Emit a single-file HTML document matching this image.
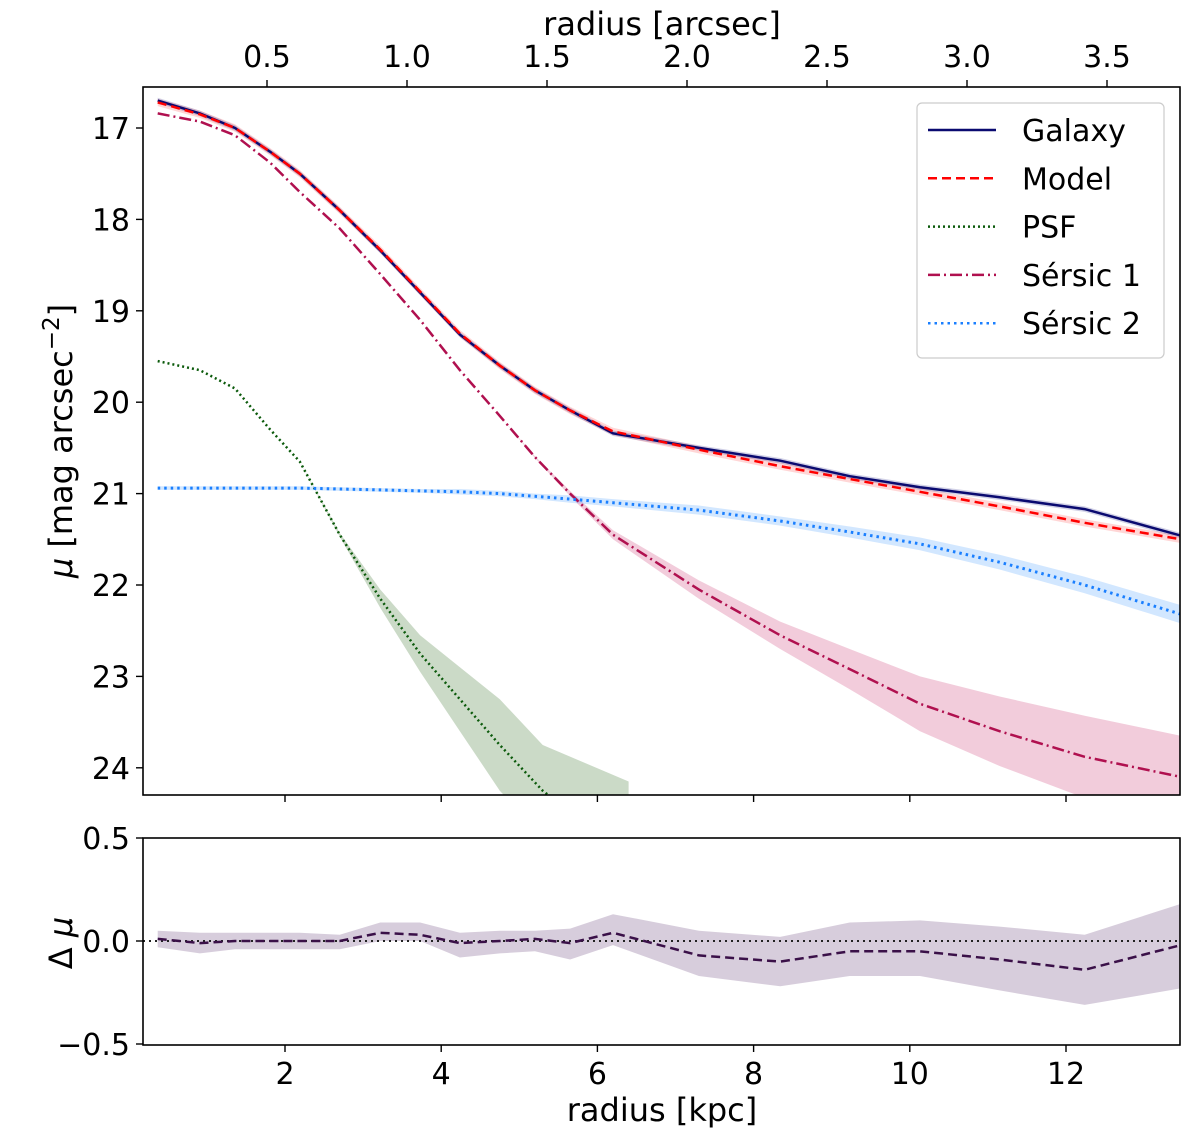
<!DOCTYPE html>
<html><head><meta charset="utf-8"><style>
body{margin:0;background:#fff}
svg{display:block;font-family:"DejaVu Sans","Liberation Sans",sans-serif}
</style></head><body>
<svg id="c" width="1200" height="1144" viewBox="0 0 1200 1144"></svg>
<script>
const xs=[0.37,0.91,1.36,1.81,2.19,2.7,3.22,3.73,4.24,4.75,5.2,5.65,6.2,7.3,8.34,9.23,10.13,11.15,12.24,13.47];
const galaxy=[16.70,16.84,17.0,17.26,17.5,17.9,18.34,18.8,19.26,19.6,19.87,20.09,20.34,20.5,20.64,20.81,20.93,21.04,21.17,21.46];
const model=[16.72,16.85,17.0,17.26,17.5,17.9,18.33,18.79,19.25,19.6,19.87,20.09,20.32,20.52,20.70,20.84,20.98,21.14,21.32,21.50];
const sersic1=[16.84,16.93,17.08,17.38,17.7,18.1,18.6,19.1,19.65,20.15,20.6,21.0,21.45,22.05,22.55,22.92,23.3,23.6,23.88,24.1];
const sersic1Err=[0,0,0,0,0,0,0,0,0,0,0.01,0.03,0.05,0.1,0.15,0.22,0.3,0.38,0.45,0.45];
const sersic2=[20.94,20.94,20.94,20.94,20.94,20.95,20.96,20.97,20.98,21.0,21.03,21.06,21.1,21.18,21.3,21.42,21.55,21.75,22.0,22.32];
const sersic2Err=[0.02,0.02,0.02,0.02,0.02,0.02,0.02,0.02,0.03,0.03,0.03,0.04,0.04,0.05,0.05,0.06,0.07,0.08,0.09,0.1];
const psfX=[0.37,0.91,1.36,1.81,2.19,2.7,3.22,3.73,4.24,4.75,5.3,6.4];
const psf=[19.55,19.65,19.85,20.3,20.65,21.45,22.15,22.75,23.25,23.75,24.25,25.0];
const psfErr=[0,0,0,0,0,0.02,0.1,0.2,0.35,0.5,0.5,0.85];
const resid=[0.01,-0.01,0.0,0.0,0.0,0.0,0.04,0.03,-0.01,0.0,0.01,-0.01,0.04,-0.07,-0.1,-0.05,-0.05,-0.09,-0.14,-0.02];
const residHi=[0.05,0.04,0.04,0.04,0.04,0.03,0.09,0.09,0.04,0.05,0.05,0.06,0.13,0.05,0.02,0.09,0.1,0.07,0.03,0.18];
const residLo=[-0.03,-0.06,-0.04,-0.04,-0.04,-0.04,0.0,0.0,-0.08,-0.06,-0.05,-0.09,-0.02,-0.17,-0.22,-0.17,-0.17,-0.24,-0.31,-0.23];
const kpcTicks=[2,4,6,8,10,12];
const arcTicks=[0.5,1.0,1.5,2.0,2.5,3.0,3.5];
const muTicks=[17,18,19,20,21,22,23,24];
const dTicks=[0.5,0.0,-0.5];
const dTickLabels=["0.5","0.0","\u22120.5"];

const NS="http://www.w3.org/2000/svg";
const svg=document.getElementById('c');
const L=143,R=1180,T1=87,B1=795,T2=838,B2=1045;
const X=k=>128.8+78.1*k;
const XA=a=>127+280*a;
const Y1=m=>128+(m-17)*91.4;
const Y2=d=>941-d*206;
function mk(tag,at,parent){const e=document.createElementNS(NS,tag);for(const k in at)e.setAttribute(k,at[k]);(parent||svg).appendChild(e);return e;}
const defs=mk('defs',{});
const cp1=mk('clipPath',{id:'cp1'},defs);mk('rect',{x:L,y:T1,width:R-L,height:B1-T1},cp1);
const cp2=mk('clipPath',{id:'cp2'},defs);mk('rect',{x:L,y:T2,width:R-L,height:B2-T2},cp2);
const g1=mk('g',{'clip-path':'url(#cp1)'});
const g2=mk('g',{'clip-path':'url(#cp2)'});
function pts(xa,ya,fx,fy){return xa.map((x,i)=>fx(x).toFixed(1)+','+fy(ya[i]).toFixed(1)).join(' ');}
function band(xa,lo,hi,fy,fill,op,g,name){
 const p=pts(xa,hi,X,fy)+' '+pts(xa.slice().reverse(),lo.slice().reverse(),X,fy);
 const e=mk('polygon',{points:p,fill:fill,'fill-opacity':op,stroke:'none'},g);
 }
function line(xa,ya,fy,col,w,dash,g,name){
 const e=mk('polyline',{points:pts(xa,ya,X,fy),fill:'none',stroke:col,'stroke-width':w,'stroke-dasharray':dash||'none'},g);
 }
band(psfX,psf.map((v,i)=>v+psfErr[i]),psf.map((v,i)=>v-psfErr[i]),Y1,'#2e6b1e',0.25,g1,'psf-band');
band(xs,sersic1.map((v,i)=>v+sersic1Err[i]),sersic1.map((v,i)=>v-sersic1Err[i]),Y1,'#c2185b',0.22,g1,'sersic1-band');
band(xs,sersic2.map((v,i)=>v+sersic2Err[i]),sersic2.map((v,i)=>v-sersic2Err[i]),Y1,'#1e88ff',0.2,g1,'sersic2-band');
band(xs,model.map(v=>v+0.04),model.map(v=>v-0.04),Y1,'#ff3030',0.2,g1,'model-band');
band(xs,galaxy.map(v=>v+0.03),galaxy.map(v=>v-0.03),Y1,'#1a1a80',0.2,g1,'galaxy-band');
line(psfX,psf,Y1,'#0b5a0b',2.5,'2,3',g1,'psf-line');
line(xs,sersic1,Y1,'#b0104f',2.5,'12,4,2,4',g1,'sersic1-line');
line(xs,sersic2,Y1,'#1a7fff',3,'2.5,4',g1,'sersic2-line');
line(xs,galaxy,Y1,'#0a0a70',2.5,null,g1,'galaxy-line');
line(xs,model,Y1,'#ff0000',2.5,'9,5',g1,'model-line');
band(xs,residLo,residHi,Y2,'#7a5a8a',0.3,g2,'residual-band');
const zl=mk('line',{x1:L,x2:R,y1:Y2(0),y2:Y2(0),stroke:'#222','stroke-width':2,'stroke-dasharray':'2,4'},g2);

line(xs,resid,Y2,'#3a1048',2.5,'9,5',g2,'residual-line');
for(const [t,b,n] of [[T1,B1,'main-frame'],[T2,B2,'residual-frame']]){
 const e=mk('rect',{x:L,y:t,width:R-L,height:b-t,fill:'none',stroke:'#000','stroke-width':1.6});
 }
function txt(x,y,s,anchor,size,name,rot){
 const e=mk('text',{x:x,y:y,'text-anchor':anchor,'font-size':size,fill:'#000'});
 if(rot)e.setAttribute('transform','rotate(-90 '+x+' '+y+')');
 e.textContent=s;return e;}
function tk(x1,y1,x2,y2){mk('line',{x1,y1,x2,y2,stroke:'#000','stroke-width':1.4});}
kpcTicks.forEach(k=>{tk(X(k),B1,X(k),B1+7);tk(X(k),B2,X(k),B2+7);txt(X(k),1084,String(k),'middle',30,'x-tick-label');});
arcTicks.forEach(a=>{tk(XA(a),T1,XA(a),T1-7);txt(XA(a),67,a.toFixed(1),'middle',30,'top-x-tick-label');});
muTicks.forEach(m=>{tk(L,Y1(m),L-7,Y1(m));txt(130,Y1(m)+11,String(m),'end',30,'y-tick-label');});
dTicks.forEach((d,i)=>{tk(L,Y2(d),L-7,Y2(d));txt(130,Y2(d)+11,dTickLabels[i],'end',30,'residual-y-tick-label');});
txt(662,1121,'radius [kpc]','middle',32,'x-axis-title');
txt(662,35,'radius [arcsec]','middle',32,'top-x-axis-title');
const yt=txt(72,441,'','middle',32,'y-axis-title',true);
yt.innerHTML='<tspan font-style="italic">μ</tspan> [mag arcsec<tspan dy="-13" font-size="23">−2</tspan><tspan dy="13">]</tspan>';
const dt=txt(72,943,'','middle',32,'residual-y-axis-title',true);
dt.innerHTML='Δ <tspan font-style="italic">μ</tspan>';
const lg=mk('g',{});
mk('rect',{x:917,y:103,width:247,height:255,rx:5,fill:'#fff','fill-opacity':0.85,stroke:'#ccc','stroke-width':1.2},lg);
const legNames=['Galaxy','Model','PSF','Sérsic 1','Sérsic 2'];
const legCol=['#0a0a70','#ff0000','#0b5a0b','#b0104f','#1a7fff'];
const legDash=['none','9,5','2,3','12,4,2,4','2.5,4'];
legNames.forEach((n,i)=>{const y=130+i*48.3;
 const g=mk('g',{},lg);
 mk('line',{x1:928,x2:996,y1:y,y2:y,stroke:legCol[i],'stroke-width':2.5,'stroke-dasharray':legDash[i]},g);
 const t=mk('text',{x:1022,y:y+11,'font-size':30,fill:'#000'},g);t.textContent=n;});
</script>
</body></html>
